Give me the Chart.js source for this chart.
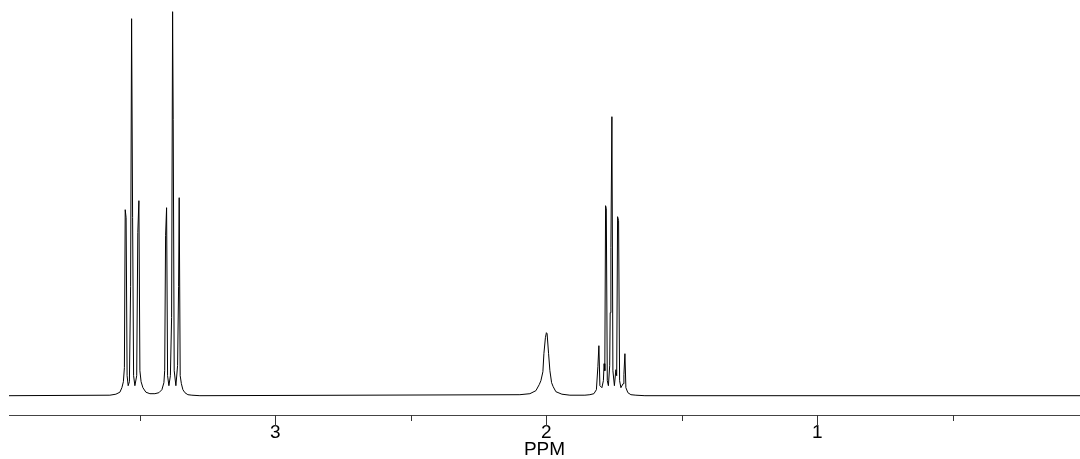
<!DOCTYPE html>
<html><head><meta charset="utf-8">
<script src="https://cdn.jsdelivr.net/npm/chart.js@4.4.1/dist/chart.umd.min.js"></script>
<style>html,body{margin:0;padding:0;background:#fff;} #wrap{width:1080px;height:459px;position:relative;}</style>
</head><body><div id="wrap"><canvas id="c"></canvas></div>
<script>
// ---- data (chemical shift in ppm, intensity in arbitrary units) ----
const ppmRange = [0.031, 3.983];
const tickStep = 0.5;
const labeledTicks = [1, 2, 3];
const axisTitle = 'PPM';

// multiplets near 3.5 / 3.38 ppm
const ppmA = [3.6107,3.5886,3.5738,3.5664,3.5609,3.5572,3.5542,3.5509,3.5472,3.5432,3.5387,3.5343,3.5306,3.5269,3.5232,3.5185,3.5118,3.5077,3.5037,3.5000,3.4956,3.4889,3.4779,3.4631,3.4446,3.4299,3.4188,3.4114,3.4085,3.4052,3.4015,3.3978,3.3930,3.3875,3.3830,3.3793,3.3771,3.3734,3.3672,3.3609,3.3572,3.3550,3.3513,3.3469,3.3413,3.3339,3.3229,3.3081,3.2786];
const intA = [0.5,1.5,3.5,8,14,28,186,178,20,10,14,109,377,178,20,10,20,163,195,25,14,8,3.5,2,2,3,6,13,25,160,188,20,10,20,78,384,276,25,10,30,109,198,20,12,6,3,1,0.5,0];

// singlet near 2.0 ppm
const ppmB = [2.0978,2.0609,2.0388,2.0266,2.0203,2.0129,2.0092,2.0037,2.0000,1.9974,1.9919,1.9871,1.9808,1.9749,1.9650,1.9428,1.9133];
const intB = [1,2,5,11,15,24,42,58,63,62,42,25,13,9,4,1.5,0.5];

// quintet near 1.76 ppm
const ppmC = [1.8579,1.8395,1.8247,1.8155,1.8100,1.8063,1.8026,1.7952,1.7897,1.7871,1.7845,1.7816,1.7790,1.7753,1.7712,1.7664,1.7646,1.7620,1.7583,1.7546,1.7491,1.7436,1.7406,1.7373,1.7336,1.7299,1.7251,1.7170,1.7140,1.7103,1.7067,1.6993,1.6882,1.6698,1.6365];
const intC = [0.5,1,2,6,29,50,10,8,15,32,25,190,187,15,10,30,83,148,279,25,10,26,20,179,175,15,8,12,21,42,8,3,1,0.5,0];

const spectrumPpm = [ppmRange[1], ...ppmA, ...ppmB, ...ppmC, ppmRange[0]];
const spectrumInt = [0, ...intA, ...intB, ...intC, 0];
const points = spectrumPpm.map((x, i) => ({x: x, y: spectrumInt[i]}));

const tickMarks = {
  id: 'tickMarks',
  afterDraw(chart) {
    const s = chart.scales.x, ctx = chart.ctx, y0 = chart.chartArea.bottom;
    ctx.save();
    ctx.strokeStyle = '#333';
    ctx.lineWidth = 1;
    s.ticks.forEach(t => {
      const px = Math.round(s.getPixelForValue(t.value)) + 0.5;
      const len = labeledTicks.includes(t.value) ? 11 : 6;
      ctx.beginPath();
      ctx.moveTo(px, y0);
      ctx.lineTo(px, y0 + len);
      ctx.stroke();
    });
    ctx.restore();
  }
};

new Chart(document.getElementById('c'), {
  type: 'line',
  data: { datasets: [{
    data: points,
    borderColor: '#000',
    borderWidth: 1,
    pointRadius: 0,
    fill: false,
    tension: 0
  }]},
  options: {
    responsive: true,
    maintainAspectRatio: false,
    animation: false,
    devicePixelRatio: 1,
    layout: { padding: { left: 9, right: 0, top: 0, bottom: 0 } },
    plugins: { legend: { display: false }, tooltip: { enabled: false } },
    scales: {
      x: {
        type: 'linear',
        reverse: true,
        min: ppmRange[0],
        max: ppmRange[1],
        afterFit(axis) { axis.height = 44; },
        border: { display: true, color: '#444', width: 1 },
        grid: { display: true, drawOnChartArea: false, drawTicks: false },
        ticks: {
          stepSize: tickStep,
          includeBounds: false,
          autoSkip: false,
          maxRotation: 0,
          padding: 6,
          color: '#000',
          font: { family: "'Liberation Sans', Arial, sans-serif", size: 19 },
          callback: v => labeledTicks.includes(v) ? String(v) : ''
        },
        title: {
          display: true,
          text: axisTitle,
          color: '#000',
          padding: 0,
          font: { family: "'Liberation Sans', Arial, sans-serif", size: 19, lineHeight: 1 }
        }
      },
      y: { display: false, min: -19.3, max: 395.7 }
    }
  },
  plugins: [tickMarks]
});
</script>
</body></html>
